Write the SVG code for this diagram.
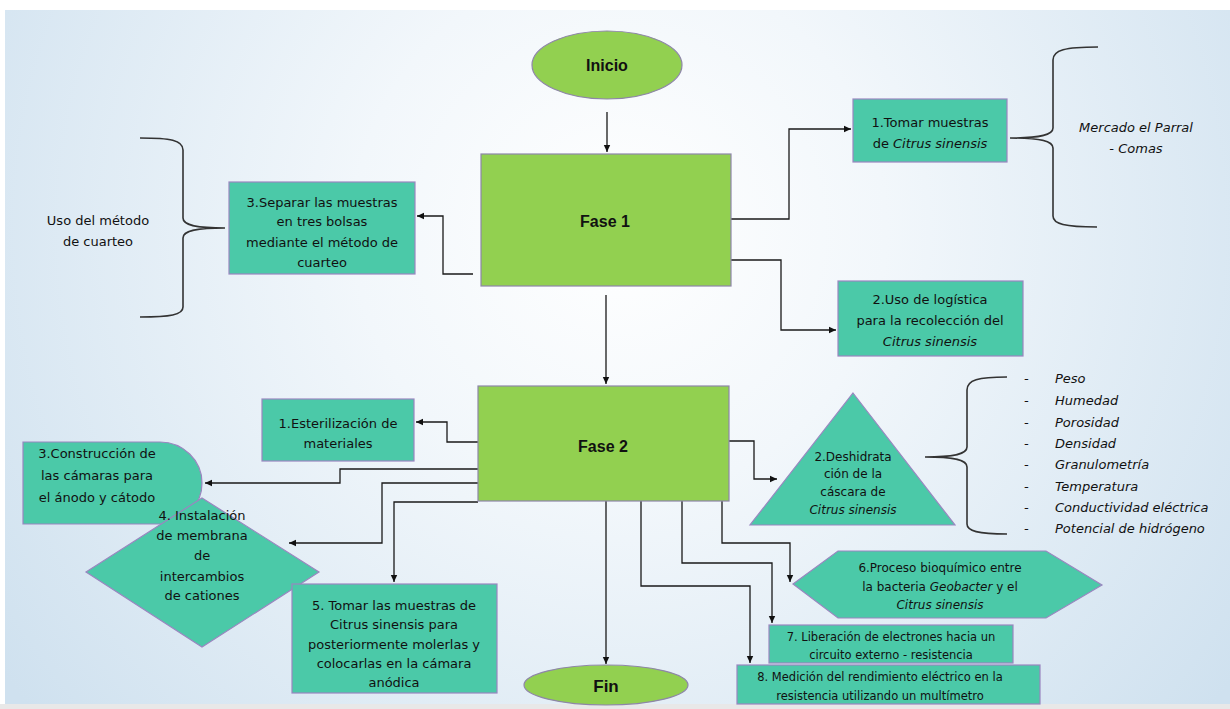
<svg xmlns="http://www.w3.org/2000/svg" width="1230" height="709" viewBox="0 0 1230 709">
<defs>
<radialGradient id="bg" cx="620" cy="230" r="760" gradientUnits="userSpaceOnUse">
<stop offset="0" stop-color="#FFFFFF"/>
<stop offset="0.35" stop-color="#F2F7FB"/>
<stop offset="1" stop-color="#CFE1EF"/>
</radialGradient>
<marker id="ah" markerWidth="8" markerHeight="8" refX="7" refY="4" orient="auto" markerUnits="userSpaceOnUse">
<path d="M0,0.8 L7,4 L0,7.2 Z" fill="#111"/>
</marker>
<style>
.conn{fill:none;stroke:#1a1a1a;stroke-width:1.3;marker-end:url(#ah)}
.brace{fill:none;stroke:#333;stroke-width:1.6}
.green{fill:#92D050;stroke:#8E86A8;stroke-width:1.2}
.teal{fill:#4BC9A8;stroke:#9A86C0;stroke-width:1.2}
.t{font-family:"DejaVu Sans",sans-serif;font-size:13px;fill:#111;text-anchor:middle}
.s{font-size:12px}
.xs{font-size:11.5px}
.i{font-style:italic}
.b{font-family:"Liberation Sans",Arial,sans-serif;font-weight:bold;font-size:16px;fill:#111;text-anchor:middle}
.l{font-family:"DejaVu Sans",sans-serif;font-size:13px;font-style:italic;fill:#111}
</style>
</defs>
<rect x="0" y="0" width="1230" height="709" fill="#FFFFFF"/>
<rect x="5" y="10" width="1225" height="694" fill="url(#bg)"/>
<rect x="0" y="704" width="1230" height="5" fill="#E8E8E8"/>

<g id="braces">
<path class="brace" d="M140,138 C170,138 183,140 183,150 L183,218 C183,225 195,228 225,228 C195,228 183,231 183,238 L183,307 C183,315 170,317 140,317"/>
<path class="brace" d="M1098,47 C1065,47 1053,50 1053,60 L1053,128 C1053,135 1040,138 1010,138 C1040,138 1053,141 1053,148 L1053,216 C1053,224 1065,227 1097,227"/>
<path class="brace" d="M1007,377 C978,377 967,380 967,390 L967,447 C967,454 955,457 925,457 C955,457 967,460 967,467 L967,524 C967,531 978,534 1007,534"/>
</g>

<g id="connectors">
<path class="conn" d="M607,112 V152"/>
<path class="conn" d="M731,219 H789 V129 H851"/>
<path class="conn" d="M731,260 H781 V330 H836"/>
<path class="conn" d="M473,274 H443 V216 H417"/>
<path class="conn" d="M606,295 V384"/>
<path class="conn" d="M478,442 H447 V422 H416"/>
<path class="conn" d="M478,469 H340 V483 H205"/>
<path class="conn" d="M478,483 H382 V543 H289"/>
<path class="conn" d="M478,502 H394 V582"/>
<path class="conn" d="M606,501 V664"/>
<path class="conn" d="M641,501 V586 H750 V663"/>
<path class="conn" d="M682,501 V563 H772 V623"/>
<path class="conn" d="M722,501 V543 H790 V582"/>
<path class="conn" d="M729,441 H754 V479 H777"/>
</g>

<g id="inicio">
<ellipse class="green" cx="607" cy="65" rx="75" ry="34"/>
<text class="b" x="607" y="71">Inicio</text>
</g>
<g id="fase1">
<rect class="green" x="481" y="154" width="250" height="132"/>
<text class="b" x="605" y="227">Fase 1</text>
</g>
<g id="tomar-muestras">
<rect class="teal" x="853" y="99" width="154" height="63"/>
<text class="t" x="930" y="127">1.Tomar muestras</text>
<text class="t" x="930" y="148">de <tspan class="i">Citrus sinensis</tspan></text>
</g>
<g id="mercado">
<text class="t i" x="1136" y="132">Mercado el Parral</text>
<text class="t i" x="1136" y="153">- Comas</text>
</g>
<g id="logistica">
<rect class="teal" x="838" y="281" width="185" height="75"/>
<text class="t" x="930" y="304">2.Uso de logística</text>
<text class="t" x="930" y="325">para la recolección del</text>
<text class="t i" x="930" y="346">Citrus sinensis</text>
</g>
<g id="separar">
<rect class="teal" x="229" y="182" width="186" height="92"/>
<text class="t" x="322" y="207">3.Separar las muestras</text>
<text class="t" x="322" y="226">en tres bolsas</text>
<text class="t" x="322" y="247">mediante el método de</text>
<text class="t" x="322" y="267">cuarteo</text>
</g>
<g id="cuarteo">
<text class="t" x="98" y="225">Uso del método</text>
<text class="t" x="98" y="246">de cuarteo</text>
</g>
<g id="fase2">
<rect class="green" x="478" y="386" width="251" height="115"/>
<text class="b" x="603" y="452">Fase 2</text>
</g>
<g id="esterilizacion">
<rect class="teal" x="262" y="399" width="152" height="62"/>
<text class="t" x="338" y="428">1.Esterilización de</text>
<text class="t" x="338" y="448">materiales</text>
</g>
<g id="construccion">
<path class="teal" d="M23,442 H160 A42,41 0 0 1 160,524 H23 Z"/>
<text class="t" x="97" y="458">3.Construcción de</text>
<text class="t" x="97" y="480">las cámaras para</text>
<text class="t" x="97" y="502">el ánodo y cátodo</text>
</g>
<g id="membrana">
<polygon class="teal" points="202,498 319,572 202,647 86,572"/>
<text class="t" x="202" y="520">4. Instalación</text>
<text class="t" x="202" y="540">de membrana</text>
<text class="t" x="202" y="560">de</text>
<text class="t" x="202" y="581">intercambios</text>
<text class="t" x="202" y="600">de cationes</text>
</g>
<g id="tomar-muestras-5">
<rect class="teal" x="292" y="584" width="205" height="109"/>
<text class="t" x="394" y="610">5. Tomar las muestras de</text>
<text class="t" x="394" y="629">Citrus sinensis para</text>
<text class="t" x="394" y="649">posteriormente molerlas y</text>
<text class="t" x="394" y="668">colocarlas en la cámara</text>
<text class="t" x="394" y="687">anódica</text>
</g>
<g id="deshidratacion">
<polygon class="teal" points="853,393 955,525 750,525"/>
<text class="t s" x="853" y="461">2.Deshidrata</text>
<text class="t s" x="853" y="478">ción de la</text>
<text class="t s" x="853" y="496">cáscara de</text>
<text class="t s i" x="853" y="514">Citrus sinensis</text>
</g>
<g id="parametros">
<text class="l" x="1024" y="383">-</text><text class="l" x="1055" y="383">Peso</text>
<text class="l" x="1024" y="405">-</text><text class="l" x="1055" y="405">Humedad</text>
<text class="l" x="1024" y="427">-</text><text class="l" x="1055" y="427">Porosidad</text>
<text class="l" x="1024" y="448">-</text><text class="l" x="1055" y="448">Densidad</text>
<text class="l" x="1024" y="469">-</text><text class="l" x="1055" y="469">Granulometría</text>
<text class="l" x="1024" y="491">-</text><text class="l" x="1055" y="491">Temperatura</text>
<text class="l" x="1024" y="512">-</text><text class="l" x="1055" y="512">Conductividad eléctrica</text>
<text class="l" x="1024" y="533">-</text><text class="l" x="1055" y="533">Potencial de hidrógeno</text>
</g>
<g id="proceso-bioquimico">
<polygon class="teal" points="793,584 838,551 1046,551 1102,585 1046,618 838,618"/>
<text class="t s" x="940" y="572">6.Proceso bioquímico entre</text>
<text class="t s" x="940" y="591">la bacteria <tspan class="i">Geobacter</tspan> y el</text>
<text class="t s i" x="940" y="609">Citrus sinensis</text>
</g>
<g id="liberacion">
<rect class="teal" x="769" y="625" width="244" height="38"/>
<text class="t xs" x="891" y="641">7. Liberación de electrones hacia un</text>
<text class="t xs" x="891" y="659">circuito externo - resistencia</text>
</g>
<g id="medicion">
<rect class="teal" x="737" y="665" width="303" height="39"/>
<text class="t xs" x="880" y="681">8. Medición del rendimiento eléctrico en la</text>
<text class="t xs" x="880" y="700">resistencia utilizando un multímetro</text>
</g>
<g id="fin">
<ellipse class="green" cx="606" cy="685" rx="82" ry="20"/>
<text class="b" x="606" y="692" style="font-size:17px">Fin</text>
</g>
</svg>
